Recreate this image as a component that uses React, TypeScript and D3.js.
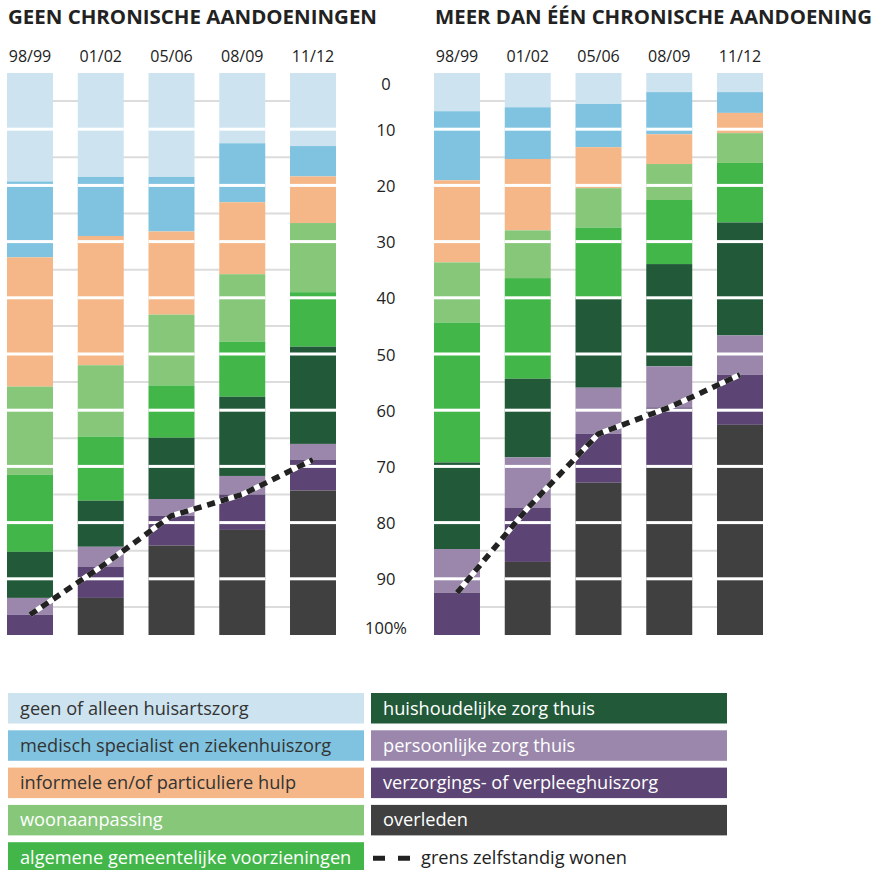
import React from "react";
import * as d3 from "d3";

// periods and categories
const periods = ["98/99", "01/02", "05/06", "08/09", "11/12"];
const categories = [
  "geen of alleen huisartszorg",
  "medisch specialist en ziekenhuiszorg",
  "informele en/of particuliere hulp",
  "woonaanpassing",
  "algemene gemeentelijke voorzieningen",
  "huishoudelijke zorg thuis",
  "persoonlijke zorg thuis",
  "verzorgings- of verpleeghuiszorg",
  "overleden",
];
const colors = ["#cde4f0", "#80c3e0", "#f5b787", "#86c77a", "#42b649", "#215939", "#9a87ab", "#5c4574", "#404040"];
const legendTextColors = ["#333", "#333", "#333", "#fff", "#fff", "#fff", "#fff", "#fff", "#fff"];

// shares (%) per category (rows) for each period (columns)
const geenShares = [
  [19.3, 18.5, 18.5, 12.5, 13.0],
  [13.5, 10.5, 9.7, 10.5, 5.4],
  [23.0, 23.0, 14.8, 12.8, 8.3],
  [15.7, 12.7, 12.6, 12.0, 12.3],
  [13.7, 11.4, 9.3, 9.8, 9.7],
  [8.2, 8.2, 10.9, 14.1, 17.3],
  [3.0, 3.6, 3.0, 3.3, 2.8],
  [3.6, 5.5, 5.3, 6.3, 5.5],
  [0, 6.6, 15.9, 18.7, 25.7],
];
const meerShares = [
  [6.8, 6.1, 5.5, 3.4, 3.4],
  [12.3, 9.2, 7.7, 7.5, 3.7],
  [14.6, 12.7, 7.3, 5.3, 3.6],
  [10.7, 8.5, 7.0, 6.4, 5.3],
  [24.9, 17.9, 12.5, 11.4, 10.6],
  [15.4, 14.0, 16.0, 18.2, 20.1],
  [7.8, 9.0, 8.2, 7.3, 7.0],
  [7.5, 9.6, 8.7, 10.5, 8.9],
  [0, 13.0, 27.1, 30.0, 37.4],
];
const yTicks = [0, 10, 20, 30, 40, 50, 60, 70, 80, 90, 100];
const gridTicks = [5, 15, 25, 35, 45, 55, 65, 75, 85, 95];
const sepTicks = [10, 20, 30, 40, 50, 60, 70, 80, 90];

const y = d3.scaleLinear().domain([0, 100]).range([73, 635]);

const Panel = ({ shares, x0, x1, title, titleLen }) => {
  const x = d3.scaleBand().domain(periods).range([x0, x1]).paddingInner(0.35).paddingOuter(0);
  const table = periods.map((p, i) => {
    const row: any = { period: p };
    categories.forEach((c, k) => (row[c] = shares[k][i]));
    return row;
  });
  const series = d3.stack().keys(categories)(table);
  // "grens zelfstandig wonen" = top of the verzorgings-/verpleeghuis segment
  const boundary = series[6];
  const line = d3
    .line<any>()
    .x((d) => x(d.data.period) + x.bandwidth() / 2)
    .y((d) => y(d[1]));
  return (
    <g>
      <text x={x0 + 1} y={24} fontSize={19} fontWeight="bold" fill="#222" textLength={titleLen} lengthAdjust="spacingAndGlyphs">
        {title}
      </text>
      {periods.map((p) => (
        <text key={p} x={x(p) + x.bandwidth() / 2} y={62} textAnchor="middle" fontSize={16} fill="#222">
          {p}
        </text>
      ))}
      {gridTicks.map((t) => (
        <line key={t} x1={x0} x2={x1} y1={y(t)} y2={y(t)} stroke="#dcdcdc" strokeWidth={2} />
      ))}
      {series.map((s, k) =>
        s.map((d, i) => (
          <rect
            key={k + "-" + i}
            x={x(periods[i])}
            y={y(d[0])}
            width={x.bandwidth()}
            height={Math.max(0, y(d[1]) - y(d[0]))}
            fill={colors[k]}
          />
        ))
      )}
      {periods.map((p) =>
        sepTicks.map((t) => (
          <rect key={p + t} x={x(p)} y={y(t) - 1.5} width={x.bandwidth()} height={3} fill="#fff" />
        ))
      )}
      <path d={line(boundary)} fill="none" stroke="#fff" strokeWidth={5.5} />
      <path d={line(boundary)} fill="none" stroke="#222" strokeWidth={5.5} strokeDasharray="8 6" />
    </g>
  );
};

export default function App() {
  const rowY = d3.scaleLinear().domain([0, 1]).range([693, 730.3]);
  return (
    <svg
      width={878}
      height={870}
      style={{ position: "absolute", left: 0, top: 0, background: "#fff" }}
      fontFamily="'Open Sans', 'Noto Sans', sans-serif"
    >
      <Panel shares={geenShares} x0={7} x1={336} title="GEEN CHRONISCHE AANDOENINGEN" titleLen={369} />
      <Panel shares={meerShares} x0={434} x1={763} title="MEER DAN ÉÉN CHRONISCHE AANDOENING" titleLen={437} />
      {yTicks.map((t) => (
        <text
          key={t}
          x={386}
          y={Math.min(Math.max(y(t), 83), 627)}
          textAnchor="middle"
          dominantBaseline="central"
          fontSize={16.5}
          fill="#222"
        >
          {t === 100 ? "100%" : t}
        </text>
      ))}
      {categories.map((c, k) => {
        const col = k < 5 ? 0 : 1;
        const row = k < 5 ? k : k - 5;
        const bx = col === 0 ? 8 : 371;
        return (
          <g key={c} transform={`translate(${bx},${rowY(row)})`}>
            <rect width={356} height={30.5} fill={colors[k]} />
            <text x={12} y={21.5} fontSize={18.2} fill={legendTextColors[k]}>
              {c}
            </text>
          </g>
        );
      })}
      <g transform={`translate(371,${rowY(4)})`}>
        <line x1={2} x2={40} y1={16} y2={16} stroke="#222" strokeWidth={5} strokeDasharray="12 13" />
        <text x={50} y={22} fontSize={18.2} fill="#222">
          grens zelfstandig wonen
        </text>
      </g>
    </svg>
  );
}
